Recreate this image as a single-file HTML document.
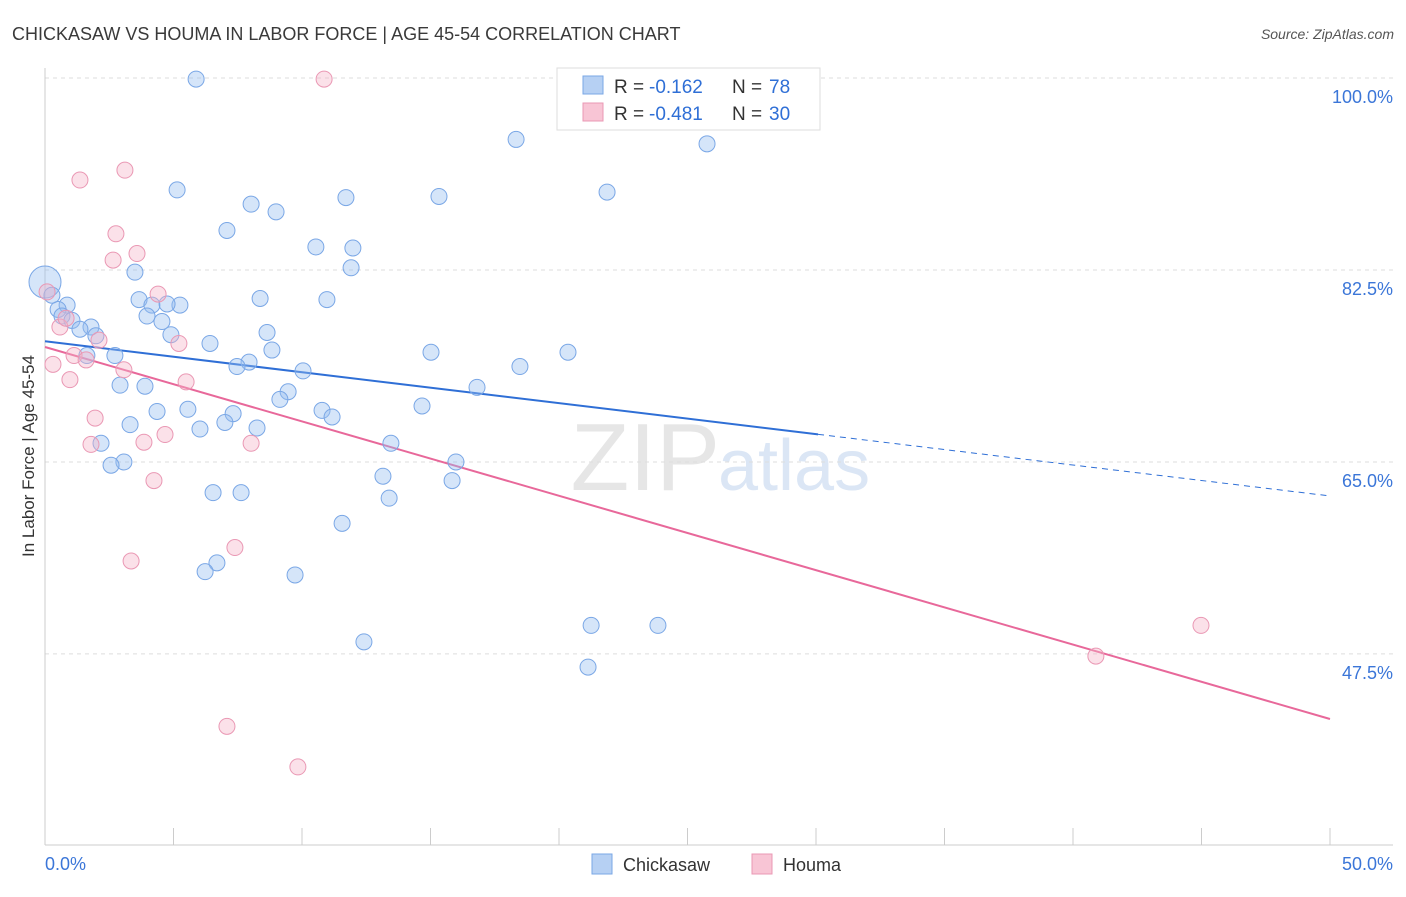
<!DOCTYPE html>
<html><head><meta charset="utf-8"><style>
body{margin:0;background:#fff;font-family:"Liberation Sans",sans-serif}
svg text{font-family:"Liberation Sans",sans-serif}
</style></head><body>
<svg id="chart" width="1406" height="892">
<text x="12" y="40" font-size="18" fill="#3a3a3a">CHICKASAW VS HOUMA IN LABOR FORCE | AGE 45-54 CORRELATION CHART</text>
<text x="1394" y="39" font-size="14" fill="#555" text-anchor="end" font-style="italic">Source: ZipAtlas.com</text>
<text x="720" y="490" font-size="96" fill="#e6e6e6" text-anchor="end" font-family="Liberation Serif">ZIP</text>
<text x="718" y="490" font-size="72" fill="#dbe6f5">atlas</text>
<g id="grid"></g><g id="axes"></g><g id="trend"></g><g id="pts"></g>
<text x="34" y="456" font-size="17" fill="#333" text-anchor="middle" transform="rotate(-90 34 456)">In Labor Force | Age 45-54</text>
<g>
<rect x="557" y="68" width="263" height="62" fill="#fff" stroke="#ddd"/>
<rect x="583" y="76" width="20" height="18" fill="#b6d0f3" stroke="#7aa7e6"/>
<text x="614" y="93" font-size="19" fill="#333">R =</text>
<text x="649" y="93" font-size="19" fill="#2f6fd6">-0.162</text>
<text x="732" y="93" font-size="19" fill="#333">N =</text>
<text x="769" y="93" font-size="19" fill="#2f6fd6">78</text>
<rect x="583" y="103" width="20" height="18" fill="#f8c5d5" stroke="#ea98b4"/>
<text x="614" y="120" font-size="19" fill="#333">R =</text>
<text x="649" y="120" font-size="19" fill="#2f6fd6">-0.481</text>
<text x="732" y="120" font-size="19" fill="#333">N =</text>
<text x="769" y="120" font-size="19" fill="#2f6fd6">30</text>
</g>
<g>
<rect x="592" y="854" width="20" height="20" fill="#b6d0f3" stroke="#7aa7e6"/>
<text x="623" y="871" font-size="18" fill="#333">Chickasaw</text>
<rect x="752" y="854" width="20" height="20" fill="#f8c5d5" stroke="#ea98b4"/>
<text x="783" y="871" font-size="18" fill="#333">Houma</text>
</g>
</svg>
<script>
const blueX=[5.88,18.33,25.76,5.14,11.71,15.33,21.87,8.02,8.99,7.08,10.54,11.98,11.91,3.50,0,0.27,0.86,0.51,3.66,8.37,10.97,4.16,5.25,4.75,3.97,0.66,1.05,1.79,1.36,4.55,4.90,1.98,8.64,6.42,8.83,1.63,2.72,15.02,20.35,7.94,7.47,18.48,10.04,2.92,3.89,16.81,9.46,9.14,14.67,5.56,4.36,7.32,10.78,11.17,3.31,6.03,7.00,8.25,2.18,13.46,3.07,2.57,15.99,13.15,15.84,6.54,7.63,13.39,11.56,6.69,6.23,9.73,21.25,23.85,12.41,21.13];
const blueY=[99.9,94.4,94.0,89.8,89.1,89.2,89.6,88.5,87.8,86.1,84.6,84.5,82.7,82.3,81.4,80.2,79.3,78.9,79.8,79.9,79.8,79.3,79.3,79.4,78.3,78.3,77.9,77.3,77.1,77.8,76.6,76.5,76.8,75.8,75.2,74.7,74.7,75.0,75.0,74.1,73.7,73.7,73.3,72.0,71.9,71.8,71.4,70.7,70.1,69.8,69.6,69.4,69.7,69.1,68.4,68.0,68.6,68.1,66.7,66.7,65.0,64.7,65.0,63.7,63.3,62.2,62.2,61.7,59.4,55.8,55.0,54.7,50.1,50.1,48.6,46.3];
const pinkX=[10.86,3.11,1.36,2.76,3.58,2.65,0.08,4.40,0.58,0.82,2.10,5.21,1.13,0.31,1.60,3.07,0.97,5.49,1.95,4.67,1.79,3.85,8.02,4.24,7.39,3.35,44.98,40.89,7.08,9.84];
const pinkY=[99.9,91.6,90.7,85.8,84.0,83.4,80.5,80.3,77.3,78.1,76.1,75.8,74.7,73.9,74.3,73.4,72.5,72.3,69.0,67.5,66.6,66.8,66.7,63.3,57.2,55.97,50.1,47.3,40.9,37.2];
const yTicks=[100,82.5,65,47.5];
const yTickLabels=["100.0%","82.5%","65.0%","47.5%"];
const xTickLabels=["0.0%","50.0%"];
const blueTrend=[76.0,61.9];
const pinkTrend=[75.48,41.57];
const NS="http://www.w3.org/2000/svg";
const sx=v=>45+v*25.7, sy=v=>78+(100-v)*10.97;
function mk(tag,attrs,parent){const e=document.createElementNS(NS,tag);for(const k in attrs)e.setAttribute(k,attrs[k]);document.getElementById(parent).appendChild(e);return e;}
yTicks.forEach((t,i)=>{
 let l=mk('line',{x1:45,x2:1393,y1:sy(t),y2:sy(t),stroke:'#ddd','stroke-dasharray':'4,4'},'grid');
 
 
 let tx=mk('text',{x:1393,y:sy(t)+25,'font-size':18,fill:'#3b76d8','text-anchor':'end'},'grid');tx.textContent=yTickLabels[i];
 
 
});
mk('line',{x1:45,x2:45,y1:68,y2:845,stroke:'#ccc'},'axes');
mk('line',{x1:45,x2:1393,y1:845,y2:845,stroke:'#ccc'},'axes');
for(let i=0;i<=10;i++){mk('line',{x1:sx(i*5),x2:sx(i*5),y1:828,y2:845,stroke:'#ccc'},'axes');}
[0,50].forEach((v,i)=>{let t=mk('text',{x:i?1393:45,y:870,'font-size':18,fill:'#3b76d8','text-anchor':i?'end':'start'},'axes');t.textContent=xTickLabels[i];
 
 });
const bAt=x=>blueTrend[0]+(blueTrend[1]-blueTrend[0])*x/50;
let bl=mk('line',{x1:sx(0),y1:sy(bAt(0)),x2:sx(30.08),y2:sy(bAt(30.08)),stroke:'#2f6fd6','stroke-width':2},'trend');


let bd=mk('line',{x1:sx(30.08),y1:sy(bAt(30.08)),x2:sx(50),y2:sy(bAt(50)),stroke:'#2f6fd6','stroke-width':1,'stroke-dasharray':'6,5'},'trend');


let pl=mk('line',{x1:sx(0),y1:sy(pinkTrend[0]),x2:sx(50),y2:sy(pinkTrend[1]),stroke:'#e8689a','stroke-width':2},'trend');


blueX.forEach((x,i)=>{let c=mk('circle',{cx:sx(x),cy:sy(blueY[i]),r:(x===0?16:8),fill:'rgba(150,190,240,0.4)',stroke:'#7aa7e6','stroke-width':1},'pts');
 
 });
pinkX.forEach((x,i)=>{let c=mk('circle',{cx:sx(x),cy:sy(pinkY[i]),r:8,fill:'rgba(245,180,200,0.4)',stroke:'#ea98b4','stroke-width':1},'pts');
 
 });
</script>
</body></html>
